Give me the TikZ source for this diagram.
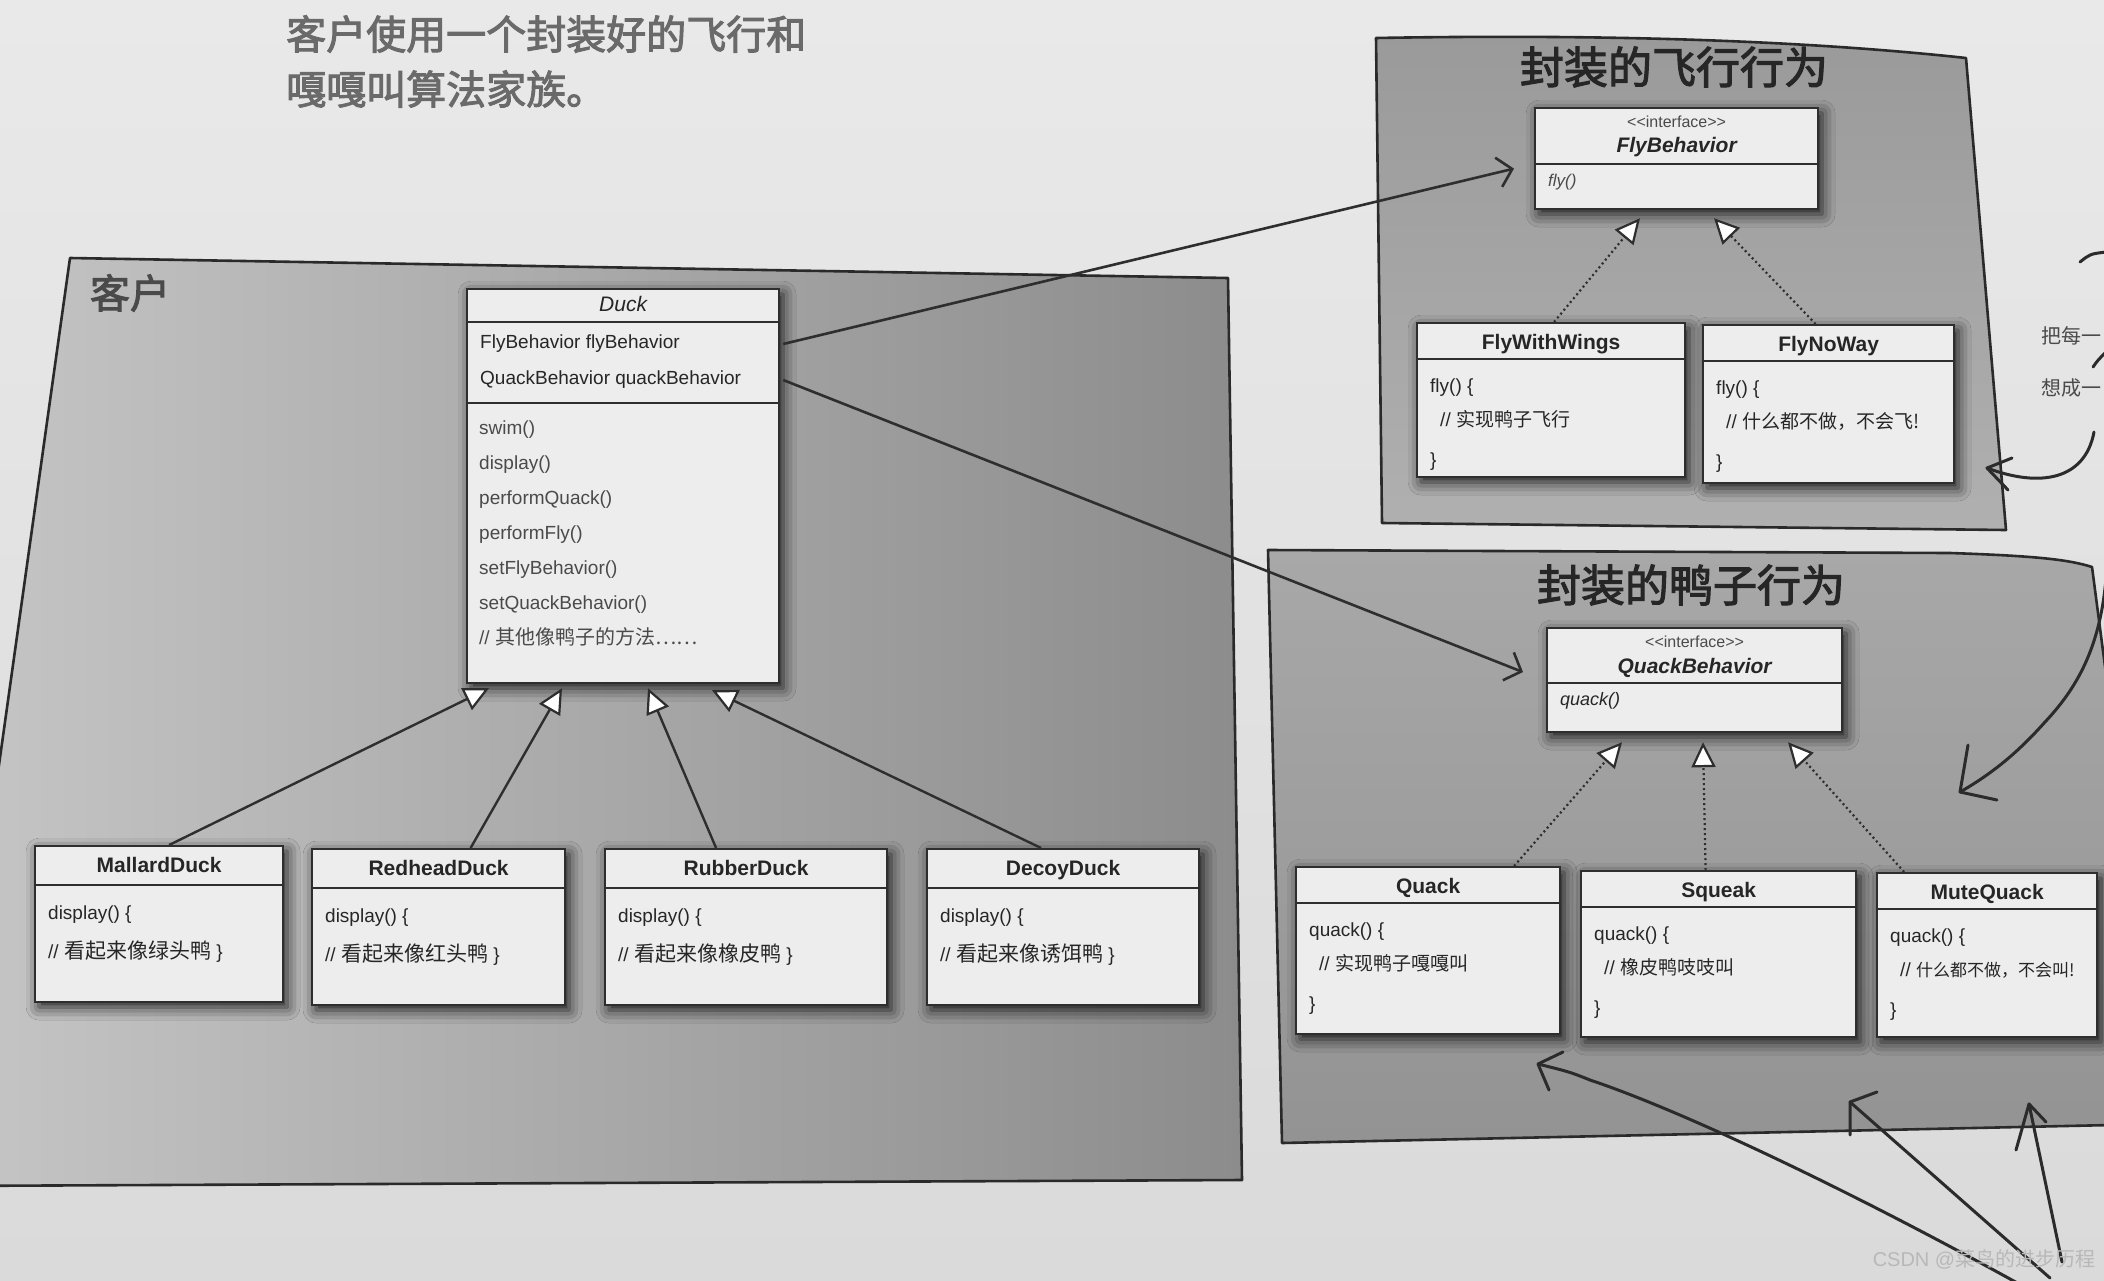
\documentclass[tikz,border=0pt]{standalone}
\usepackage{fontspec}
\setmainfont{Liberation Sans}
\newfontfamily\cjk{Noto Sans CJK SC}[AutoFakeBold=2.5]
\usetikzlibrary{arrows.meta,calc,shadows.blur}
\definecolor{pagetop}{HTML}{E9E9E9}
\definecolor{pagebot}{HTML}{DADADA}
\definecolor{boxfill}{HTML}{EDEDED}
\definecolor{boxline}{HTML}{2E2E2E}
\definecolor{txt}{HTML}{262626}
\definecolor{txtlight}{HTML}{4A4A4A}
\definecolor{panelline}{HTML}{2A2A2A}
\definecolor{leftA}{HTML}{C6C6C6}
\definecolor{leftB}{HTML}{8C8C8C}
\definecolor{flyA}{HTML}{9A9A9A}
\definecolor{flyB}{HTML}{B0B0B0}
\definecolor{qA}{HTML}{A8A8A8}
\definecolor{qB}{HTML}{939393}
\definecolor{capc}{HTML}{6A6A6A}
\definecolor{penc}{HTML}{2B2B2B}
\newcommand\mkduck[6]{%
  \node[cls,minimum width=#4pt,minimum height=156pt] (#1) at (#2,#3) {};
  \draw[sepline] ($(#1.north west)+(0,40)$) -- ($(#1.north east)+(0,40)$);
  \node[cname] (#1T) at ($(#1.north)+(0,27)$) {#5};
  \node[body] (#1a) at ($(#1.north west)+(14,74)$) {display() \{};
  \node[body] (#1b) at ($(#1.north west)+(14,113)$) {// {\cjk\fontsize{21}{24}\selectfont #6} \}};
}
\newcommand\mkimpl[8]{%
  \node[cls,minimum width=#4pt,minimum height=#5pt] (#1) at (#2,#3) {};
  \draw[sepline] ($(#1.north west)+(0,37)$) -- ($(#1.north east)+(0,37)$);
  \node[cname] (#1T) at ($(#1.north)+(0,27)$) {#6};
  \node[body] (#1a) at ($(#1.north west)+(14,70)$) {#7() \{};
  \node[body] (#1b) at ($(#1.north west)+(24,104)$) {// {\cjk #8}};
  \node[body] (#1c) at ($(#1.north west)+(14,144)$) {\}};
}
\begin{document}
\begin{tikzpicture}[x=1pt,y=-1pt,
  panel/.style={draw=panelline,line width=2.6pt,line join=round},
  cls/.style={draw=boxline,line width=2.2pt,fill=boxfill,anchor=north west,inner sep=0pt,
     blur shadow={shadow xshift=4pt,shadow yshift=-5pt,shadow blur radius=13pt,shadow opacity=85}},
  sepline/.style={draw=boxline,line width=2pt},
  cname/.style={anchor=base,inner sep=0pt,text=txt,font=\fontsize{21}{24}\selectfont\bfseries},
  iname/.style={anchor=base,inner sep=0pt,text=txt,font=\fontsize{21}{24}\selectfont\bfseries\itshape},
  stereo/.style={anchor=base,inner sep=0pt,text=txtlight,font=\fontsize{16}{18}\selectfont},
  body/.style={anchor=base west,inner sep=0pt,text=txt,font=\fontsize{19}{22}\selectfont},
  meth/.style={anchor=base west,inner sep=0pt,text=txtlight,font=\fontsize{19}{22}\selectfont},
  inh/.style={draw=boxline,line width=2.4pt,-{Triangle[fill=white,length=25pt,width=24pt,line width=2.2pt]}},
  real/.style={draw=boxline,line width=2.2pt,dash pattern=on 2pt off 3pt,-{Triangle[fill=white,length=25pt,width=24pt,line width=2.2pt]}},
  assoc/.style={draw=boxline,line width=2.6pt,-{Straight Barb[length=14pt,width=30pt,line width=2.6pt]}},
  penline/.style={draw=penc,line width=3pt,line cap=round,line join=round},
  ptitle/.style={inner sep=0pt,text=txt,font=\fontsize{44}{48}\selectfont\cjk\bfseries},
  side/.style={anchor=east,inner sep=0pt,text=txtlight,font=\fontsize{20}{22}\selectfont\cjk},
]
\useasboundingbox (0,0) rectangle (2104,1280);
\clip (0,0) rectangle (2104,1280);
\shade[top color=pagetop,bottom color=pagebot] (0,0) rectangle (2104,1280);

% caption
\node[anchor=west,inner sep=0pt,text=capc,font=\fontsize{40}{44}\selectfont\cjk\bfseries] (cap1) at (286,34) {客户使用一个封装好的飞行和};
\node[anchor=west,inner sep=0pt,text=capc,font=\fontsize{40}{44}\selectfont\cjk\bfseries] (cap2) at (286,89) {嘎嘎叫算法家族。};

% panels
\draw[panel,left color=leftA,right color=leftB] (70,258) -- (1228,278) -- (1242,1180) -- (-60,1186) -- cycle;
\draw[panel,top color=flyA,bottom color=flyB] (1376,38) .. controls (1600,34) and (1800,40) .. (1966,58) -- (2006,530) -- (1382,523) -- cycle;
\draw[panel,top color=qA,bottom color=qB] (1268,550) -- (1950,553) .. controls (2040,556) and (2070,560) .. (2092,567) -- (2112,720) -- (2112,1125) -- (1282,1143) -- cycle;

\node[inner sep=0pt,text=txtlight,font=\fontsize{40}{44}\selectfont\cjk\bfseries] (client) at (130,293) {客户};
\node[ptitle] (flyTitle) at (1674,67) {封装的飞行行为};
\node[ptitle] (qTitle) at (1691,585) {封装的鸭子行为};

% Duck
\node[cls,minimum width=312pt,minimum height=394pt] (duck) at (466,288) {};
\draw[sepline] ($(duck.north west)+(0,34)$) -- ($(duck.north east)+(0,34)$);
\draw[sepline] ($(duck.north west)+(0,115)$) -- ($(duck.north east)+(0,115)$);
\node[anchor=base,inner sep=0pt,text=txt,font=\fontsize{21}{24}\selectfont\itshape] (duckT) at ($(duck.north)+(0,23)$) {Duck};
\node[body] (dA1) at ($(duck.north west)+(14,60)$) {FlyBehavior flyBehavior};
\node[body] (dA2) at ($(duck.north west)+(14,96)$) {QuackBehavior quackBehavior};
\node[meth] (dM1) at ($(duck.north west)+(13,146)$) {swim()};
\node[meth] (dM2) at ($(duck.north west)+(13,181)$) {display()};
\node[meth] (dM3) at ($(duck.north west)+(13,216)$) {performQuack()};
\node[meth] (dM4) at ($(duck.north west)+(13,251)$) {performFly()};
\node[meth] (dM5) at ($(duck.north west)+(13,286)$) {setFlyBehavior()};
\node[meth] (dM6) at ($(duck.north west)+(13,321)$) {setQuackBehavior()};
\node[meth] (dM7) at ($(duck.north west)+(13,356)$) {// {\cjk\fontsize{20}{22}\selectfont 其他像鸭子的方法……}};

% Duck subclasses
\mkduck{mallard}{34}{845}{248}{MallardDuck}{看起来像绿头鸭}
\mkduck{redhead}{311}{848}{253}{RedheadDuck}{看起来像红头鸭}
\mkduck{rubber}{604}{848}{282}{RubberDuck}{看起来像橡皮鸭}
\mkduck{decoy}{926}{848}{272}{DecoyDuck}{看起来像诱饵鸭}

\draw[inh] ($(mallard.north)+(10,0)$) -- ($(duck.south west)+(23,4)$);
\draw[inh] ($(redhead.north)+(32,0)$) -- ($(duck.south west)+(96,4)$);
\draw[inh] ($(rubber.north)+(-30,0)$) -- ($(duck.south west)+(182,4)$);
\draw[inh] ($(decoy.north)+(-22,0)$) -- ($(duck.south west)+(246,6)$);

% FlyBehavior
\node[cls,minimum width=283pt,minimum height=101pt] (flyB) at (1534,107) {};
\draw[sepline] ($(flyB.north west)+(0,57)$) -- ($(flyB.north east)+(0,57)$);
\node[stereo] (flyBs) at ($(flyB.north)+(0,20)$) {{<}{<}interface{>}{>}};
\node[iname] (flyBT) at ($(flyB.north)+(0,45)$) {FlyBehavior};
\node[anchor=base west,inner sep=0pt,text=txtlight,font=\fontsize{17}{20}\selectfont\itshape] (flyBm) at ($(flyB.north west)+(14,79)$) {fly()};

\mkimpl{fww}{1416}{322}{268}{154}{FlyWithWings}{fly}{实现鸭子飞行}
\mkimpl{fnw}{1702}{324}{251}{158}{FlyNoWay}{fly}{什么都不做，不会飞!}

\draw[real] ($(fww.north)+(3,0)$) -- ($(flyB.south west)+(106,8)$);
\draw[real] ($(fnw.north)+(-13,0)$) -- ($(flyB.south west)+(180,8)$);

% QuackBehavior
\node[cls,minimum width=295pt,minimum height=104pt] (qB) at (1546,627) {};
\draw[sepline] ($(qB.north west)+(0,56)$) -- ($(qB.north east)+(0,56)$);
\node[stereo] (qBs) at ($(qB.north)+(0,20)$) {{<}{<}interface{>}{>}};
\node[iname] (qBT) at ($(qB.north)+(0,46)$) {QuackBehavior};
\node[anchor=base west,inner sep=0pt,text=txt,font=\fontsize{18}{20}\selectfont\itshape] (qBm) at ($(qB.north west)+(14,78)$) {quack()};

\mkimpl{quack}{1295}{866}{264}{167}{Quack}{quack}{实现鸭子嘎嘎叫}
\mkimpl{squeak}{1580}{870}{275}{166}{Squeak}{quack}{橡皮鸭吱吱叫}
\mkimpl{mute}{1876}{872}{220}{164}{MuteQuack}{quack}{\fontsize{17}{20}\selectfont 什么都不做，不会叫!}

\draw[real] ($(quack.north)+(86,0)$) -- ($(qB.south west)+(76,9)$);
\draw[real] ($(squeak.north)+(-13,0)$) -- ($(qB.south west)+(157,9)$);
\draw[real] ($(mute.north)+(-83,0)$) -- ($(qB.south west)+(242,9)$);

% associations
\draw[assoc] ($(duck.north east)+(3,56)$) -- ($(flyB.west)+(-20,10)$);
\draw[assoc] ($(duck.north east)+(3,92)$) -- ($(qB.west)+(-23,-8)$);

% right margin text fragments
\node[side] (side1) at (2102,336) {把每一};
\node[side] (side2) at (2102,388) {想成一};

% hand-drawn pen arrows
\coordinate (pA0) at (2106,578);
\coordinate (pA1) at (1960,792);
\draw[penline] (pA0) .. controls (2100,650) and (2075,690) .. (2045,722) .. controls (2020,750) and (1995,772) .. (pA1);
\draw[penline] (1968,745) -- (pA1) -- (1997,800);

\coordinate (pB0) at (2094,432);
\coordinate (pB1) at (1987,468);
\draw[penline] (pB0) .. controls (2085,480) and (2040,488) .. (pB1);
\draw[penline] (2012,458) -- (pB1) -- (2008,490);
\draw[penline] (2080,262) .. controls (2090,254) .. (2106,252);
\draw[penline] (2093,367) .. controls (2098,360) .. (2106,352);

\coordinate (pC0) at (2030,1290);
\coordinate (pC1) at (1538,1064);
\draw[penline] (pC0) .. controls (1850,1190) and (1680,1110) .. (1590,1080) .. controls (1570,1072) .. (pC1);
\draw[penline] (1563,1052) -- (pC1) -- (1549,1090);

\coordinate (pD0) at (2050,1278);
\coordinate (pD1) at (1850,1102);
\draw[penline] (pD0) -- (pD1);
\draw[penline] (1877,1092) -- (pD1) -- (1850,1135);

\coordinate (pE0) at (2062,1262);
\coordinate (pE1) at (2029,1104);
\draw[penline] (pE0) -- (pE1);
\draw[penline] (2016,1150) -- (pE1) -- (2046,1122);

% watermark
\node[inner sep=0pt,text=white!72!black,font=\fontsize{20}{22}\selectfont] (wm) at (1984,1259) {CSDN @{\cjk 菜鸟的进步历程}};
\end{tikzpicture}
\end{document}
